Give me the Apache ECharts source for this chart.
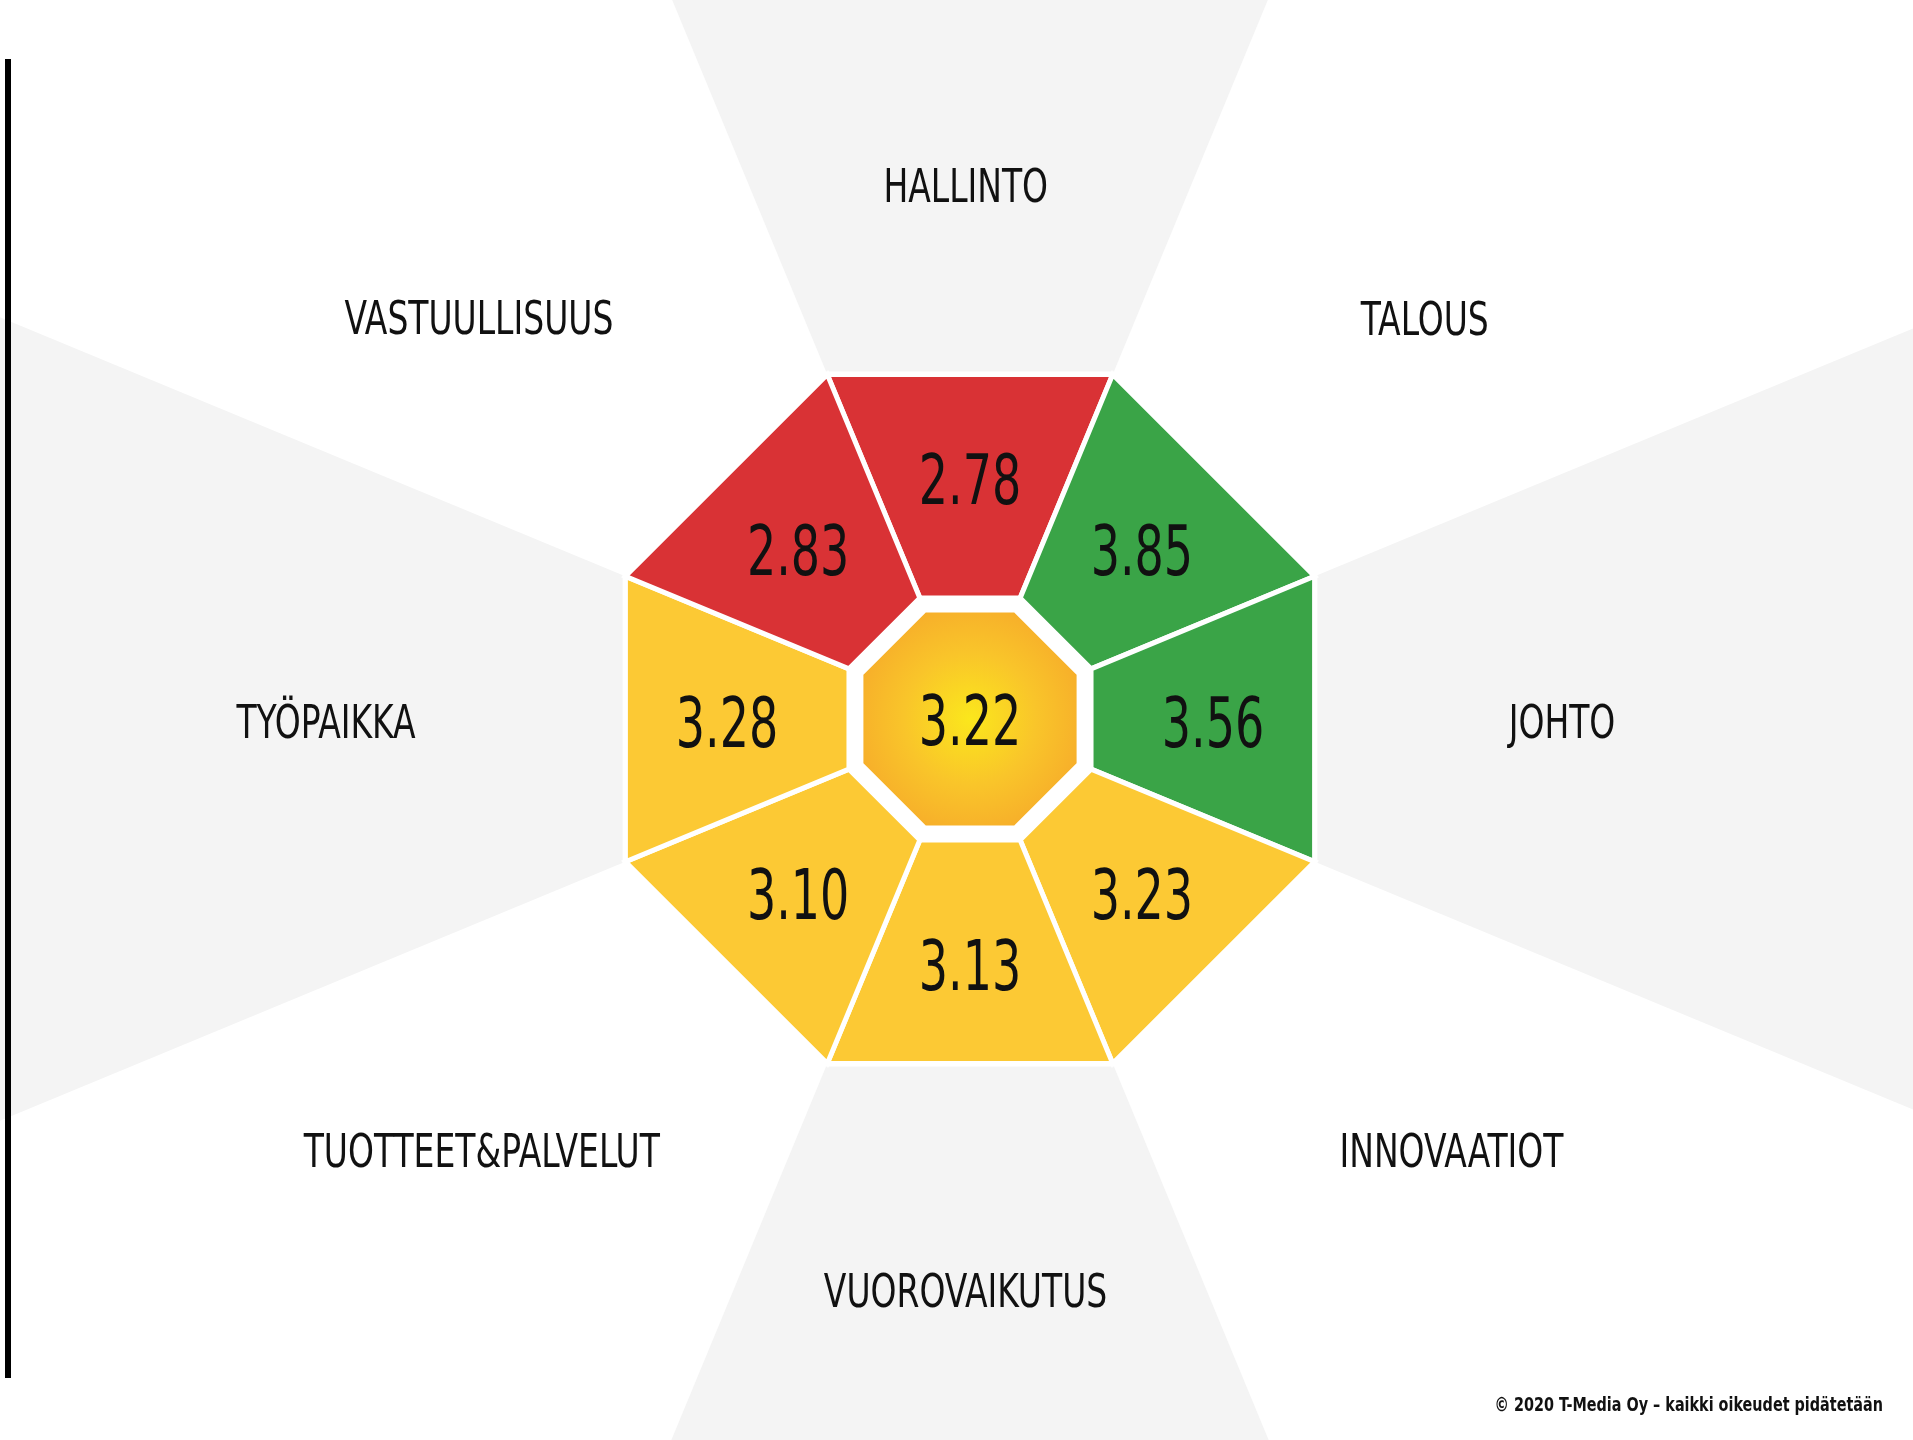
<!DOCTYPE html>
<html>
<head>
<meta charset="utf-8">
<title>Arviointi</title>
<script src="https://cdn.jsdelivr.net/npm/echarts@6/dist/echarts.min.js"></script>
<style>
  html, body { margin: 0; padding: 0; background: #fff; }
  #chart { width: 1913px; height: 1440px; }
</style>
</head>
<body>
<div id="chart"></div>
<script>
// categories, clockwise from the top
var categories = ["HALLINTO", "TALOUS", "JOHTO", "INNOVAATIOT", "VUOROVAIKUTUS", "TUOTTEET&PALVELUT", "TYÖPAIKKA", "VASTUULLISUUS"];
var scores = [2.78, 3.85, 3.56, 3.23, 3.13, 3.10, 3.28, 2.83];
var overall = [3.22];
var copyright = "© 2020 T-Media Oy – kaikki oikeudet pidätetään";

// layout (px / radius units)
var CX = 970, CY = 719;
var R_OUT = 373, R_IN = 131, R_CORE = 117, R_NUM = 243, R_FAR = 2200;
var labelDist = [536, 608, 592, 645, 569, 650, 644, 636];
var labelNudge = [-0.01, 0.076, 0, -0.073, 0.01, 0.082, 0, -0.123];

var FONT = "'Liberation Sans Narrow', 'DejaVu Sans Condensed', 'DejaVu Sans', sans-serif";

var chart = echarts.init(document.getElementById("chart"));

var segData = scores.map(function (v, i) { return [v, i]; });

function octagon(api, r) {
  var pts = [];
  for (var k = 0; k < 8; k++) pts.push(api.coord([r, k]));
  return pts;
}

// gray background wedges behind every second category
function renderWedge(params, api) {
  var i = api.value(1);
  if (i % 2 === 1) return { type: "group", children: [] };
  return {
    type: "polygon",
    shape: { points: [api.coord([0, 0]), api.coord([R_FAR, i]), api.coord([R_FAR, i + 1])] },
    style: { fill: "#f4f4f4" }
  };
}

function renderBase(params, api) {
  return {
    type: "polygon",
    shape: { points: octagon(api, R_OUT + 3) },
    style: { fill: "#ffffff" }
  };
}

function renderSegment(params, api) {
  var i = api.value(1);
  var mid = api.coord([R_NUM, i + 0.5]);
  return {
    type: "group",
    children: [{
      type: "polygon",
      shape: { points: [api.coord([R_IN, i]), api.coord([R_OUT, i]), api.coord([R_OUT, i + 1]), api.coord([R_IN, i + 1])] },
      style: { fill: api.visual("color"), stroke: "#ffffff", lineWidth: 5 }
    }, {
      type: "text",
      x: mid[0], y: mid[1] + 10, scaleX: 0.73,
      style: {
        text: api.value(0).toFixed(2), fill: "#111111",
        fontSize: 70, fontFamily: FONT,
        align: "center", verticalAlign: "middle"
      }
    }]
  };
}

function renderCore(params, api) {
  var c = api.coord([0, 0]);
  return {
    type: "group",
    children: [{
      type: "polygon",
      shape: { points: octagon(api, R_CORE) },
      style: {
        fill: new echarts.graphic.RadialGradient(0.5, 0.5, 0.6, [
          { offset: 0, color: "#fbe71c" },
          { offset: 0.5, color: "#f9c52a" },
          { offset: 1, color: "#f6a82a" }
        ]),
        stroke: "#ffffff", lineWidth: 3
      }
    }, {
      type: "text",
      x: c[0], y: c[1] + 8, scaleX: 0.73,
      style: {
        text: api.value(0).toFixed(2), fill: "#111111",
        fontSize: 70, fontFamily: FONT,
        align: "center", verticalAlign: "middle"
      }
    }]
  };
}

function renderLabel(params, api) {
  var i = api.value(1);
  var p = api.coord([labelDist[i], i + 0.5 + labelNudge[i]]);
  return {
    type: "text",
    x: p[0], y: p[1] + 7, scaleX: 0.78,
    style: {
      text: categories[i], fill: "#111111",
      fontSize: 47, fontFamily: FONT,
      align: "center", verticalAlign: "middle"
    }
  };
}

chart.setOption({
  backgroundColor: "#ffffff",
  animation: false,
  polar: { center: [CX, CY], radius: R_OUT },
  angleAxis: { type: "value", min: 0, max: 8, startAngle: 112.5, clockwise: true, show: false },
  radiusAxis: { type: "value", min: 0, max: R_OUT, show: false },
  visualMap: {
    type: "piecewise",
    show: false,
    seriesIndex: 2,
    dimension: 0,
    pieces: [
      { lt: 3, color: "#d93235" },
      { gte: 3, lt: 3.5, color: "#fcc934" },
      { gte: 3.5, color: "#3aa447" }
    ]
  },
  graphic: [{
    type: "rect",
    z: 100,
    shape: { x: 5, y: 59, width: 6, height: 1319 },
    style: { fill: "#000000" }
  }, {
    type: "text",
    z: 100,
    x: 1883, y: 1406, scaleX: 0.8,
    style: {
      text: copyright, fill: "#111111",
      fontSize: 20, fontWeight: "bold", fontFamily: FONT,
      align: "right", verticalAlign: "middle"
    }
  }],
  series: [
    { type: "custom", coordinateSystem: "polar", data: segData, renderItem: renderWedge, silent: true, z: 1 },
    { type: "custom", coordinateSystem: "polar", data: [[0, 0]], renderItem: renderBase, silent: true, z: 2 },
    { type: "custom", coordinateSystem: "polar", data: segData, renderItem: renderSegment, z: 3 },
    { type: "custom", coordinateSystem: "polar", data: overall.map(function (v) { return [v, 0]; }), renderItem: renderCore, z: 4 },
    { type: "custom", coordinateSystem: "polar", data: segData, renderItem: renderLabel, silent: true, z: 5 }
  ]
});
</script>
</body>
</html>
